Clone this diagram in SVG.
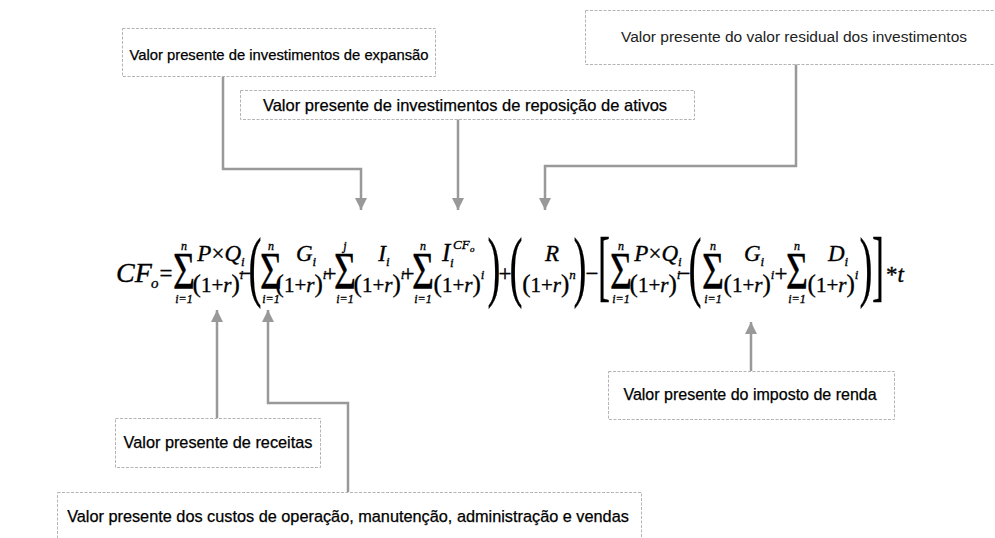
<svg xmlns="http://www.w3.org/2000/svg" width="995" height="538" viewBox="0 0 995 538">
<defs>
<marker id="ah" markerUnits="userSpaceOnUse" markerWidth="12" markerHeight="12" refX="12" refY="6" orient="auto">
<path d="M0,0 L12,6 L0,12 z" fill="#999"/>
</marker>
<style>
.box{fill:#fff;stroke:#b4b4b4;stroke-width:1;stroke-dasharray:3 1.5}
.lbl{font-family:"Liberation Sans",Arial,sans-serif;fill:#000;stroke:#000;stroke-width:0.25;text-anchor:middle}
.con{fill:none;stroke:#999;stroke-width:2.5;marker-end:url(#ah)}
#formula text{stroke:#000;stroke-width:0.35}
.fi{font-family:"Liberation Serif","Times New Roman",serif;font-style:italic;fill:#000}
.fu{font-family:"Liberation Serif","Times New Roman",serif;font-style:normal;fill:#000}
.sig{font-family:"Liberation Serif","Times New Roman",serif;font-size:52px;text-anchor:middle}
.lim{font-family:"Liberation Serif","Times New Roman",serif;font-style:italic;font-size:12px;text-anchor:middle}
.num{font-family:"Liberation Serif","Times New Roman",serif;font-style:italic;font-size:23px;text-anchor:middle}
.den{font-family:"Liberation Serif","Times New Roman",serif;font-size:21px;text-anchor:middle}
.pa{font-size:25px}
.big{font-family:"Liberation Serif","Times New Roman",serif;font-size:78px;text-anchor:middle}
.op{font-family:"Liberation Serif","Times New Roman",serif;font-size:23px;text-anchor:middle}
</style>
</defs>
<rect width="995" height="538" fill="#fff"/>

<g id="connectors">
<path class="con" d="M223,77 V169 H361 V210"/>
<path class="con" d="M458,119 V210"/>
<path class="con" d="M796,64 V166 H545 V210"/>
<path class="con" d="M217,418 V310"/>
<path class="con" d="M348,492 V403 H268 V310"/>
<path class="con" d="M751,371 V322"/>
</g>

<g id="n-expansao">
<rect class="box" x="122.5" y="28.5" width="313" height="48"/>
<text class="lbl" x="279" y="60" font-size="14.8">Valor presente de investimentos de expansão</text>
</g>
<g id="n-reposicao">
<rect class="box" x="240.5" y="90.5" width="454" height="29"/>
<text class="lbl" x="465" y="111" font-size="16.5">Valor presente de investimentos de reposição de ativos</text>
</g>
<g id="n-residual">
<rect class="box" x="585.5" y="10.5" width="420" height="54"/>
<text class="lbl" x="794" y="42" font-size="15.5" style="fill:#222;stroke:none">Valor presente do valor residual dos investimentos</text>
</g>
<g id="n-receitas">
<rect class="box" x="115.5" y="418.5" width="205" height="49"/>
<text class="lbl" x="218" y="448" font-size="16.3">Valor presente de receitas</text>
</g>
<g id="n-imposto">
<rect class="box" x="608.5" y="371.5" width="286" height="48"/>
<text class="lbl" x="750" y="400" font-size="16">Valor presente do imposto de renda</text>
</g>
<g id="n-custos">
<rect class="box" x="57.5" y="492.5" width="584" height="60"/>
<text class="lbl" x="348" y="522" font-size="16.3">Valor presente dos custos de operação, manutenção, administração e vendas</text>
</g>

<g id="formula">
<text class="fi" x="116" y="282" font-size="28">CF</text>
<text class="fi" x="151" y="288" font-size="15">o</text>
<text class="op" x="166" y="281">=</text>

<text class="sig" x="184" y="289" textLength="22" lengthAdjust="spacingAndGlyphs">Σ</text>
<text class="lim" x="184" y="250">n</text>
<text class="lim" x="184" y="303">i=1</text>
<text class="num" x="221" y="261">P<tspan class="fu">×</tspan>Q<tspan font-size="13" dy="5">i</tspan></text>
<text class="den" x="218" y="292"><tspan class="pa">(</tspan>1+<tspan class="fi">r</tspan><tspan class="pa">)</tspan><tspan class="fi" font-size="13" dy="-13">i</tspan></text>

<text class="op" x="245" y="281">−</text>
<text class="big" x="255" y="292" textLength="13" lengthAdjust="spacingAndGlyphs">(</text>

<text class="sig" x="271" y="289" textLength="22" lengthAdjust="spacingAndGlyphs">Σ</text>
<text class="lim" x="271" y="250">n</text>
<text class="lim" x="271" y="303">i=1</text>
<text class="num" x="306" y="261">G<tspan font-size="13" dy="5">i</tspan></text>
<text class="den" x="301" y="292"><tspan class="pa">(</tspan>1+<tspan class="fi">r</tspan><tspan class="pa">)</tspan><tspan class="fi" font-size="13" dy="-13">i</tspan></text>

<text class="op" x="330" y="281">+</text>
<text class="sig" x="345" y="289" textLength="22" lengthAdjust="spacingAndGlyphs">Σ</text>
<text class="lim" x="345" y="250">j</text>
<text class="lim" x="345" y="303">i=1</text>
<text class="num" x="384" y="261" font-size="25">I<tspan font-size="13" dy="5">i</tspan></text>
<text class="den" x="379" y="292"><tspan class="pa">(</tspan>1+<tspan class="fi">r</tspan><tspan class="pa">)</tspan><tspan class="fi" font-size="13" dy="-13">i</tspan></text>

<text class="op" x="408" y="281">+</text>
<text class="sig" x="423" y="289" textLength="22" lengthAdjust="spacingAndGlyphs">Σ</text>
<text class="lim" x="423" y="250">n</text>
<text class="lim" x="423" y="303">i=1</text>
<text class="fi" x="442" y="261" font-size="25">I</text>
<text class="fi" x="450" y="267" font-size="13">i</text>
<text class="fi" x="453" y="249" font-size="13">CF</text>
<text class="fi" x="470" y="252" font-size="9">o</text>
<text class="den" x="459" y="292"><tspan class="pa">(</tspan>1+<tspan class="fi">r</tspan><tspan class="pa">)</tspan><tspan class="fi" font-size="13" dy="-13">i</tspan></text>
<text class="big" x="494" y="292" textLength="13" lengthAdjust="spacingAndGlyphs">)</text>

<text class="op" x="505" y="281">+</text>
<text class="big" x="516" y="292" textLength="13" lengthAdjust="spacingAndGlyphs">(</text>
<text class="num" x="552" y="261" font-size="25">R</text>
<text class="den" x="549" y="292"><tspan class="pa">(</tspan>1+<tspan class="fi">r</tspan><tspan class="pa">)</tspan><tspan class="fi" font-size="13" dy="-13">n</tspan></text>
<text class="big" x="580" y="292" textLength="13" lengthAdjust="spacingAndGlyphs">)</text>

<text class="op" x="592" y="281">−</text>
<text class="big" x="604" y="292" textLength="12" lengthAdjust="spacingAndGlyphs">[</text>
<text class="sig" x="621" y="289" textLength="22" lengthAdjust="spacingAndGlyphs">Σ</text>
<text class="lim" x="621" y="250">n</text>
<text class="lim" x="621" y="303">i=1</text>
<text class="num" x="658" y="261">P<tspan class="fu">×</tspan>Q<tspan font-size="13" dy="5">i</tspan></text>
<text class="den" x="655" y="292"><tspan class="pa">(</tspan>1+<tspan class="fi">r</tspan><tspan class="pa">)</tspan><tspan class="fi" font-size="13" dy="-13">i</tspan></text>

<text class="op" x="684" y="281">−</text>
<text class="big" x="695" y="292" textLength="13" lengthAdjust="spacingAndGlyphs">(</text>
<text class="sig" x="713" y="289" textLength="22" lengthAdjust="spacingAndGlyphs">Σ</text>
<text class="lim" x="713" y="250">n</text>
<text class="lim" x="713" y="303">i=1</text>
<text class="num" x="754" y="261">G<tspan font-size="13" dy="5">i</tspan></text>
<text class="den" x="749" y="292"><tspan class="pa">(</tspan>1+<tspan class="fi">r</tspan><tspan class="pa">)</tspan><tspan class="fi" font-size="13" dy="-13">i</tspan></text>

<text class="op" x="781" y="281">+</text>
<text class="sig" x="797" y="289" textLength="22" lengthAdjust="spacingAndGlyphs">Σ</text>
<text class="lim" x="797" y="250">n</text>
<text class="lim" x="797" y="303">i=1</text>
<text class="num" x="838" y="261">D<tspan font-size="13" dy="5">i</tspan></text>
<text class="den" x="833" y="292"><tspan class="pa">(</tspan>1+<tspan class="fi">r</tspan><tspan class="pa">)</tspan><tspan class="fi" font-size="13" dy="-13">i</tspan></text>
<text class="big" x="866" y="292" textLength="13" lengthAdjust="spacingAndGlyphs">)</text>
<text class="big" x="878" y="292" textLength="12" lengthAdjust="spacingAndGlyphs">]</text>
<text class="fi" x="886" y="282" font-size="23"><tspan class="fu">*</tspan>t</text>
</g>
</svg>
